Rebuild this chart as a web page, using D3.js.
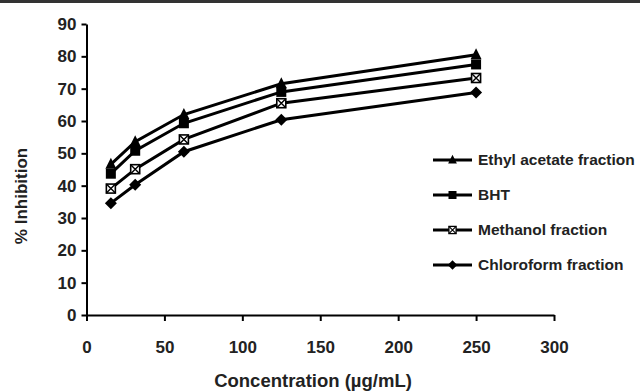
<!DOCTYPE html>
<html>
<head>
<meta charset="utf-8">
<script src="https://cdn.jsdelivr.net/npm/d3@7"></script>
<style>
  body { margin: 0; background: #fff; }
  svg { display: block; font-family: "Liberation Sans", Arial, sans-serif; }
  .axis text { font-size: 17px; font-weight: bold; fill: #222; font-family: "Liberation Sans", Arial, sans-serif; }
  .axis path, .axis line { stroke: #000; stroke-width: 2; }
</style>
</head>
<body>
<svg width="640" height="392"></svg>
<script>
var conc = [15.625, 31.25, 62.5, 125, 250];
var ethyl = [46.6, 53.6, 62.0, 71.5, 80.5];
var bht = [43.7, 50.8, 59.3, 69.0, 77.5];
var methanol = [39.1, 45.1, 54.3, 65.5, 73.3];
var chloroform = [34.6, 40.3, 50.5, 60.4, 68.8];
var seriesNames = ["Ethyl acetate fraction", "BHT", "Methanol fraction", "Chloroform fraction"];
var xTicks = [0, 50, 100, 150, 200, 250, 300];
var yTicks = [0, 10, 20, 30, 40, 50, 60, 70, 80, 90];

var series = [
  {name: seriesNames[0], values: ethyl, marker: "triangle"},
  {name: seriesNames[1], values: bht, marker: "square"},
  {name: seriesNames[2], values: methanol, marker: "xsquare"},
  {name: seriesNames[3], values: chloroform, marker: "diamond"}
];

var svg = d3.select("svg");

// dark strip at the top of the scan
svg.append("rect").attr("x", 0).attr("y", 0).attr("width", 640).attr("height", 3).attr("fill", "#333");

var x = d3.scaleLinear().domain([0, 300]).range([86.5, 554]);
var y = d3.scaleLinear().domain([0, 90]).range([315, 24]);

svg.append("g")
    .attr("class", "axis")
    .attr("transform", "translate(0," + y(0) + ")")
    .call(d3.axisBottom(x).tickValues(xTicks).tickSize(6).tickSizeOuter(0).tickPadding(20));

svg.append("g")
    .attr("class", "axis")
    .attr("transform", "translate(" + x(0) + ",0)")
    .call(d3.axisLeft(y).tickValues(yTicks).tickSize(5).tickSizeOuter(0).tickPadding(5));

svg.append("text")
    .attr("x", 313)
    .attr("y", 387)
    .attr("text-anchor", "middle")
    .style("font-size", "18.5px")
    .style("font-weight", "bold")
    .style("fill", "#222")
    .text("Concentration (\u00b5g/mL)");

svg.append("text")
    .attr("transform", "translate(27,196) rotate(-90)")
    .attr("text-anchor", "middle")
    .style("font-size", "17px")
    .style("font-weight", "bold")
    .style("fill", "#222")
    .text("% Inhibition");

var line = d3.line()
    .x(function(d) { return x(d[0]); })
    .y(function(d) { return y(d[1]); });

function drawMarker(g, type) {
  if (type == "triangle") {
    g.append("path").attr("d", "M0,-6.5L5.5,4.5L-5.5,4.5Z").attr("fill", "#000");
  } else if (type == "square") {
    g.append("rect").attr("x", -5).attr("y", -5).attr("width", 10).attr("height", 10).attr("fill", "#000");
  } else if (type == "xsquare") {
    g.append("rect").attr("x", -4.5).attr("y", -4.5).attr("width", 9).attr("height", 9)
        .attr("fill", "#fff").attr("stroke", "#000").attr("stroke-width", 1.6);
    g.append("path").attr("d", "M-4.5,-4.5L4.5,4.5M4.5,-4.5L-4.5,4.5")
        .attr("stroke", "#000").attr("stroke-width", 1.4);
  } else {
    g.append("path").attr("d", "M0,-6L6,0L0,6L-6,0Z").attr("fill", "#000");
  }
}

series.forEach(function(s) {
  var pts = conc.map(function(c, i) { return [c, s.values[i]]; });
  svg.append("path")
      .datum(pts)
      .attr("fill", "none")
      .attr("stroke", "#000")
      .attr("stroke-width", 3)
      .attr("d", line);
  pts.forEach(function(p) {
    var g = svg.append("g").attr("transform", "translate(" + x(p[0]) + "," + y(p[1]) + ")");
    drawMarker(g, s.marker);
  });
});

// legend
var legend = svg.append("g").attr("transform", "translate(433,160)");
series.forEach(function(s, i) {
  var row = legend.append("g").attr("transform", "translate(0," + (i * 35) + ")");
  row.append("line").attr("x1", 0).attr("x2", 39).attr("y1", 0).attr("y2", 0)
      .attr("stroke", "#000").attr("stroke-width", 3);
  var m = row.append("g").attr("transform", "translate(19.5,0) scale(0.8)");
  drawMarker(m, s.marker);
  row.append("text")
      .attr("x", 45)
      .attr("y", 0)
      .attr("dy", "0.35em")
      .style("font-size", "15.5px")
      .style("font-weight", "bold")
      .style("fill", "#222")
      .text(s.name);
});
</script>
</body>
</html>
